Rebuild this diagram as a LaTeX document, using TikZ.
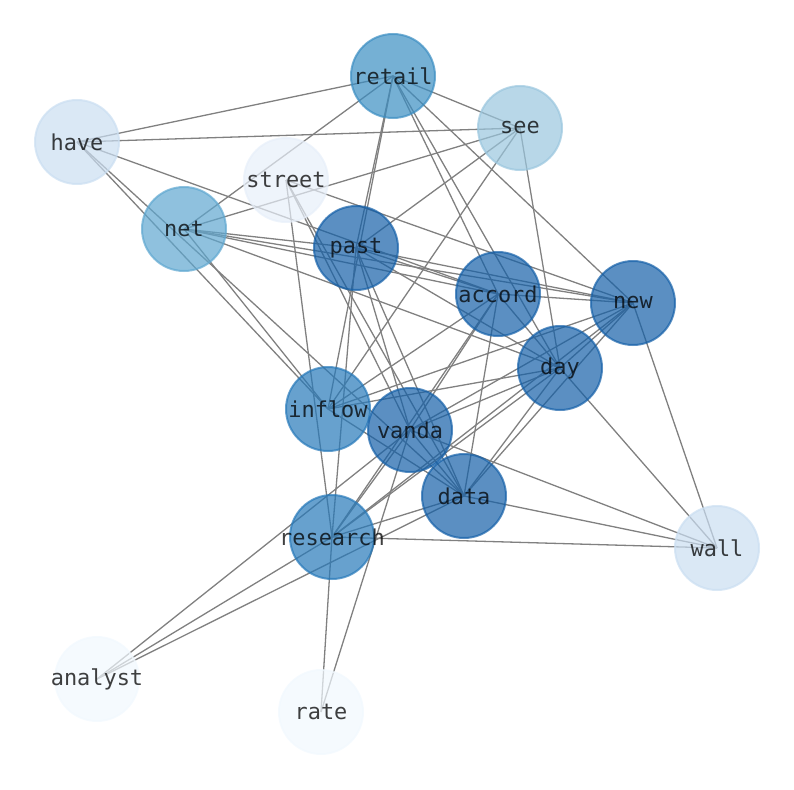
\documentclass[tikz,border=0pt]{standalone}
\usepackage{fontspec}
\newfontfamily\monofont{DejaVu Sans Mono}
\definecolor{cA}{RGB}{21,96,168}
\definecolor{cB}{RGB}{39,121,185}
\definecolor{cC}{RGB}{59,142,194}
\definecolor{cD}{RGB}{95,167,208}
\definecolor{cE}{RGB}{154,198,222}
\definecolor{cF}{RGB}{202,222,241}
\definecolor{cG}{RGB}{231,239,249}
\definecolor{cH}{RGB}{241,248,254}
\tikzset{
  wnode/.style={circle, minimum size=84bp, inner sep=0pt, fill=#1, draw=#1, fill opacity=0.7, draw opacity=0.7, line width=2bp,
    text opacity=0.75, text=black, font=\monofont\fontsize{22}{22}\selectfont},
  edge/.style={draw=black!50, line width=1.3bp}
}
\newcommand{\wlab}[1]{\makebox[0pt][c]{#1}}
\begin{document}
\begin{tikzpicture}[x=1bp,y=-1bp]
\useasboundingbox (0,0) rectangle (794,790);
\coordinate (retail) at (393,76);
\coordinate (see) at (520,128);
\coordinate (have) at (77,142);
\coordinate (street) at (286,180);
\coordinate (net) at (184,229);
\coordinate (past) at (356,248);
\coordinate (accord) at (498,294);
\coordinate (new) at (633,303);
\coordinate (day) at (560,368);
\coordinate (inflow) at (328,409);
\coordinate (vanda) at (410,430);
\coordinate (data) at (464,496);
\coordinate (research) at (332,537);
\coordinate (wall) at (717,548);
\coordinate (analyst) at (97,679);
\coordinate (rate) at (321,712);
\foreach \a/\b in {analyst/vanda, analyst/research, analyst/data,
  rate/research, rate/vanda,
  wall/new, wall/day, wall/vanda, wall/data, wall/research,
  see/retail, see/have, see/net, see/past, see/inflow, see/day,
  have/retail, have/accord, have/inflow, have/data,
  street/research, street/vanda, street/data, street/new,
  net/retail, net/past, net/accord, net/new, net/day, net/inflow,
  retail/past, retail/inflow, retail/accord, retail/day, retail/new,
  past/accord, past/new, past/day, past/vanda, past/data, past/research,
  accord/new, accord/day, accord/inflow, accord/vanda, accord/research, accord/data,
  new/day, new/inflow, new/vanda, new/data, new/research,
  day/inflow, day/vanda, day/data, day/research,
  inflow/data, vanda/data, vanda/research, data/research}
  \draw[edge] (\a) -- (\b);
\node[wnode=cC] (n-retail) at (retail) {\wlab{retail}};
\node[wnode=cE] (n-see) at (see) {\wlab{see}};
\node[wnode=cF] (n-have) at (have) {\wlab{have}};
\node[wnode=cG] (n-street) at (street) {\wlab{street}};
\node[wnode=cD] (n-net) at (net) {\wlab{net}};
\node[wnode=cA] (n-past) at (past) {\wlab{past}};
\node[wnode=cA] (n-accord) at (accord) {\wlab{accord}};
\node[wnode=cA] (n-new) at (new) {\wlab{new}};
\node[wnode=cA] (n-day) at (day) {\wlab{day}};
\node[wnode=cB] (n-inflow) at (inflow) {\wlab{inflow}};
\node[wnode=cA] (n-vanda) at (vanda) {\wlab{vanda}};
\node[wnode=cA] (n-data) at (data) {\wlab{data}};
\node[wnode=cB] (n-research) at (research) {\wlab{research}};
\node[wnode=cF] (n-wall) at (wall) {\wlab{wall}};
\node[wnode=cH] (n-analyst) at (analyst) {\wlab{analyst}};
\node[wnode=cH] (n-rate) at (rate) {\wlab{rate}};
\end{tikzpicture}
\end{document}
